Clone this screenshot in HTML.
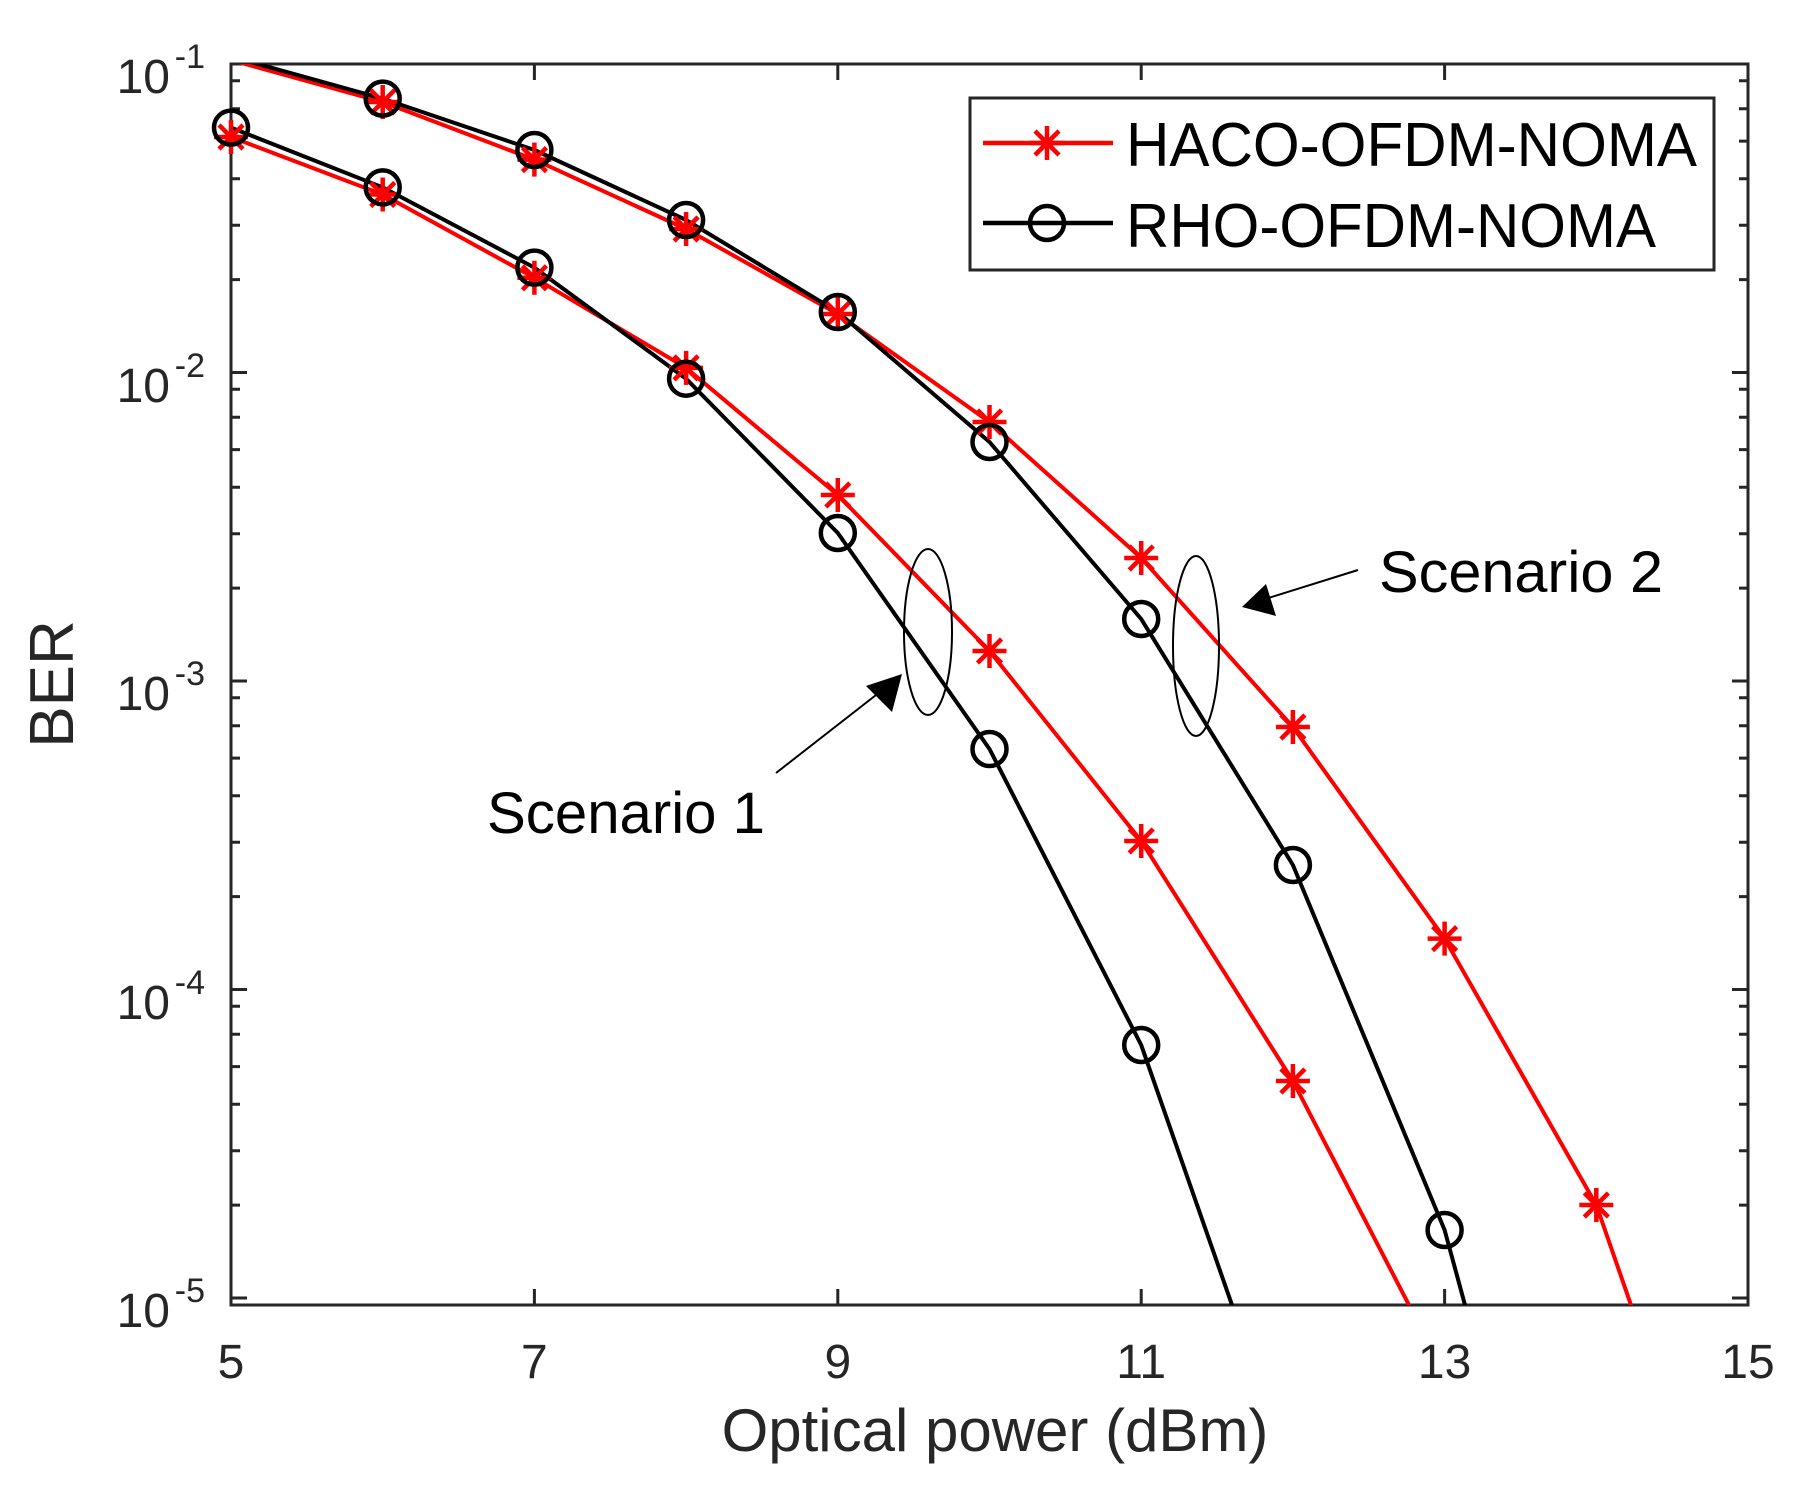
<!DOCTYPE html>
<html><head><meta charset="utf-8"><style>
html,body{margin:0;padding:0;background:#fff;}
svg{display:block;}
text{font-family:"Liberation Sans",Arial,sans-serif;fill:#262626;}
</style></head><body>
<svg width="1815" height="1485" viewBox="0 0 1815 1485" xmlns="http://www.w3.org/2000/svg">
<defs>
<clipPath id="c"><rect x="231" y="64" width="1517" height="1241"/></clipPath>
<g id="st" stroke="#ff0000" stroke-width="4.5" fill="none"><line x1="0" y1="-17" x2="0" y2="17"/><line x1="-17" y1="0" x2="17" y2="0"/><line x1="-12" y1="-12" x2="12" y2="12"/><line x1="-12" y1="12" x2="12" y2="-12"/></g>
<circle id="ci" r="17" stroke="#000" stroke-width="4.5" fill="none"/>
</defs>
<rect width="1815" height="1485" fill="#fff"/>
<rect x="231" y="64" width="1517" height="1241" fill="none" stroke="#262626" stroke-width="3"/>
<g stroke="#262626" stroke-width="3">
<path d="M231 64h16M231 372.5h16M231 681h16M231 989.5h16M231 1298h16M1748 64h-16M1748 372.5h-16M1748 681h-16M1748 989.5h-16M1748 1298h-16"/>
<path d="M231 1305v-16M534.4 1305v-16M837.8 1305v-16M1141.2 1305v-16M1444.6 1305v-16M1748 1305v-16M231 64v16M534.4 64v16M837.8 64v16M1141.2 64v16M1444.6 64v16M1748 64v16"/>
<path d="
M231 279.6h9M231 225.3h9M231 178.8h9M231 141.1h9M231 108.7h9M231 80.8h9
M231 588.1h9M231 533.8h9M231 487.3h9M231 449.6h9M231 417.2h9M231 389.3h9
M231 896.6h9M231 842.3h9M231 795.8h9M231 758.1h9M231 725.7h9M231 697.8h9
M231 1205.1h9M231 1150.8h9M231 1104.3h9M231 1066.6h9M231 1034.2h9M231 1006.3h9
M1748 279.6h-9M1748 225.3h-9M1748 178.8h-9M1748 141.1h-9M1748 108.7h-9M1748 80.8h-9
M1748 588.1h-9M1748 533.8h-9M1748 487.3h-9M1748 449.6h-9M1748 417.2h-9M1748 389.3h-9
M1748 896.6h-9M1748 842.3h-9M1748 795.8h-9M1748 758.1h-9M1748 725.7h-9M1748 697.8h-9
M1748 1205.1h-9M1748 1150.8h-9M1748 1104.3h-9M1748 1066.6h-9M1748 1034.2h-9M1748 1006.3h-9"/>
</g>
<g font-size="48" text-anchor="end">
<text x="170" y="93">10</text><text x="205" y="68" font-size="34">-1</text>
<text x="170" y="402">10</text><text x="205" y="377" font-size="34">-2</text>
<text x="170" y="710">10</text><text x="205" y="685" font-size="34">-3</text>
<text x="170" y="1019">10</text><text x="205" y="994" font-size="34">-4</text>
<text x="170" y="1327">10</text><text x="205" y="1302" font-size="34">-5</text>
</g>
<g font-size="48" text-anchor="middle">
<text x="231" y="1378">5</text><text x="534.4" y="1378">7</text><text x="837.8" y="1378">9</text>
<text x="1141.2" y="1378">11</text><text x="1444.6" y="1378">13</text><text x="1748" y="1378">15</text>
</g>
<text x="995" y="1451" font-size="60" text-anchor="middle">Optical power (dBm)</text>
<text transform="translate(73,684) rotate(-90)" font-size="62" text-anchor="middle">BER</text>
<g clip-path="url(#c)" fill="none" stroke-width="4" stroke-linejoin="round">
<polyline stroke="#ff0000" points="231,137 382.7,194.5 534.4,277.8 686.1,367.9 837.8,495 989.5,651 1141.2,841 1292.9,1081 1409,1305 1420,1330"/>
<polyline stroke="#ff0000" points="231,60 382.7,102 534.4,159.6 686.1,229 837.8,314 989.5,422 1141.2,558 1292.9,727 1444.6,938.6 1596.3,1205 1631,1305 1640,1330"/>
<polyline stroke="#000" points="231,127.6 382.7,187.4 534.4,267.6 686.1,378.7 837.8,533 989.5,749 1141.2,1045 1232,1305 1240,1330"/>
<polyline stroke="#000" points="231,56.5 382.7,98.6 534.4,150 686.1,220 837.8,312 989.5,442 1141.2,619 1292.9,865 1444.6,1230 1465,1305 1470,1330"/>
</g>
<use href="#st" x="231" y="137"/><use href="#st" x="382.7" y="194.5"/><use href="#st" x="534.4" y="277.8"/><use href="#st" x="686.1" y="367.9"/><use href="#st" x="837.8" y="495"/><use href="#st" x="989.5" y="651"/><use href="#st" x="1141.2" y="841"/><use href="#st" x="1292.9" y="1081"/>
<use href="#st" x="382.7" y="102"/><use href="#st" x="534.4" y="159.6"/><use href="#st" x="686.1" y="229"/><use href="#st" x="837.8" y="314"/><use href="#st" x="989.5" y="422"/><use href="#st" x="1141.2" y="558"/><use href="#st" x="1292.9" y="727"/><use href="#st" x="1444.6" y="938.6"/><use href="#st" x="1596.3" y="1205"/>
<use href="#ci" x="231" y="127.6"/><use href="#ci" x="382.7" y="187.4"/><use href="#ci" x="534.4" y="267.6"/><use href="#ci" x="686.1" y="378.7"/><use href="#ci" x="837.8" y="533"/><use href="#ci" x="989.5" y="749"/><use href="#ci" x="1141.2" y="1045"/>
<use href="#ci" x="382.7" y="98.6"/><use href="#ci" x="534.4" y="150"/><use href="#ci" x="686.1" y="220"/><use href="#ci" x="837.8" y="312"/><use href="#ci" x="989.5" y="442"/><use href="#ci" x="1141.2" y="619"/><use href="#ci" x="1292.9" y="865"/><use href="#ci" x="1444.6" y="1230"/>
<g fill="none" stroke="#000" stroke-width="2">
<ellipse cx="928" cy="632" rx="24" ry="83"/>
<ellipse cx="1196" cy="646" rx="23" ry="90"/>
<line x1="776" y1="773" x2="885" y2="688"/>
<line x1="1358" y1="570" x2="1262" y2="600"/>
</g>
<polygon points="902,674 866,686 892,712" fill="#000"/>
<polygon points="1242,607 1266,584 1276,616" fill="#000"/>
<text x="487" y="833" font-size="58" style="fill:#000" textLength="278" lengthAdjust="spacingAndGlyphs">Scenario 1</text>
<text x="1379" y="592" font-size="58" style="fill:#000" textLength="284" lengthAdjust="spacingAndGlyphs">Scenario 2</text>
<rect x="970" y="98" width="744" height="172" fill="#fff" stroke="#262626" stroke-width="3"/>
<line x1="983" y1="143" x2="1113" y2="143" stroke="#ff0000" stroke-width="4.5"/>
<use href="#st" x="1047" y="143"/>
<line x1="983" y1="223" x2="1113" y2="223" stroke="#000" stroke-width="4.5"/>
<use href="#ci" x="1047" y="223"/>
<text x="1126" y="166" font-size="62" style="fill:#000" textLength="571" lengthAdjust="spacingAndGlyphs">HACO-OFDM-NOMA</text>
<text x="1126" y="247" font-size="62" style="fill:#000" textLength="530" lengthAdjust="spacingAndGlyphs">RHO-OFDM-NOMA</text>
</svg>
</body></html>
